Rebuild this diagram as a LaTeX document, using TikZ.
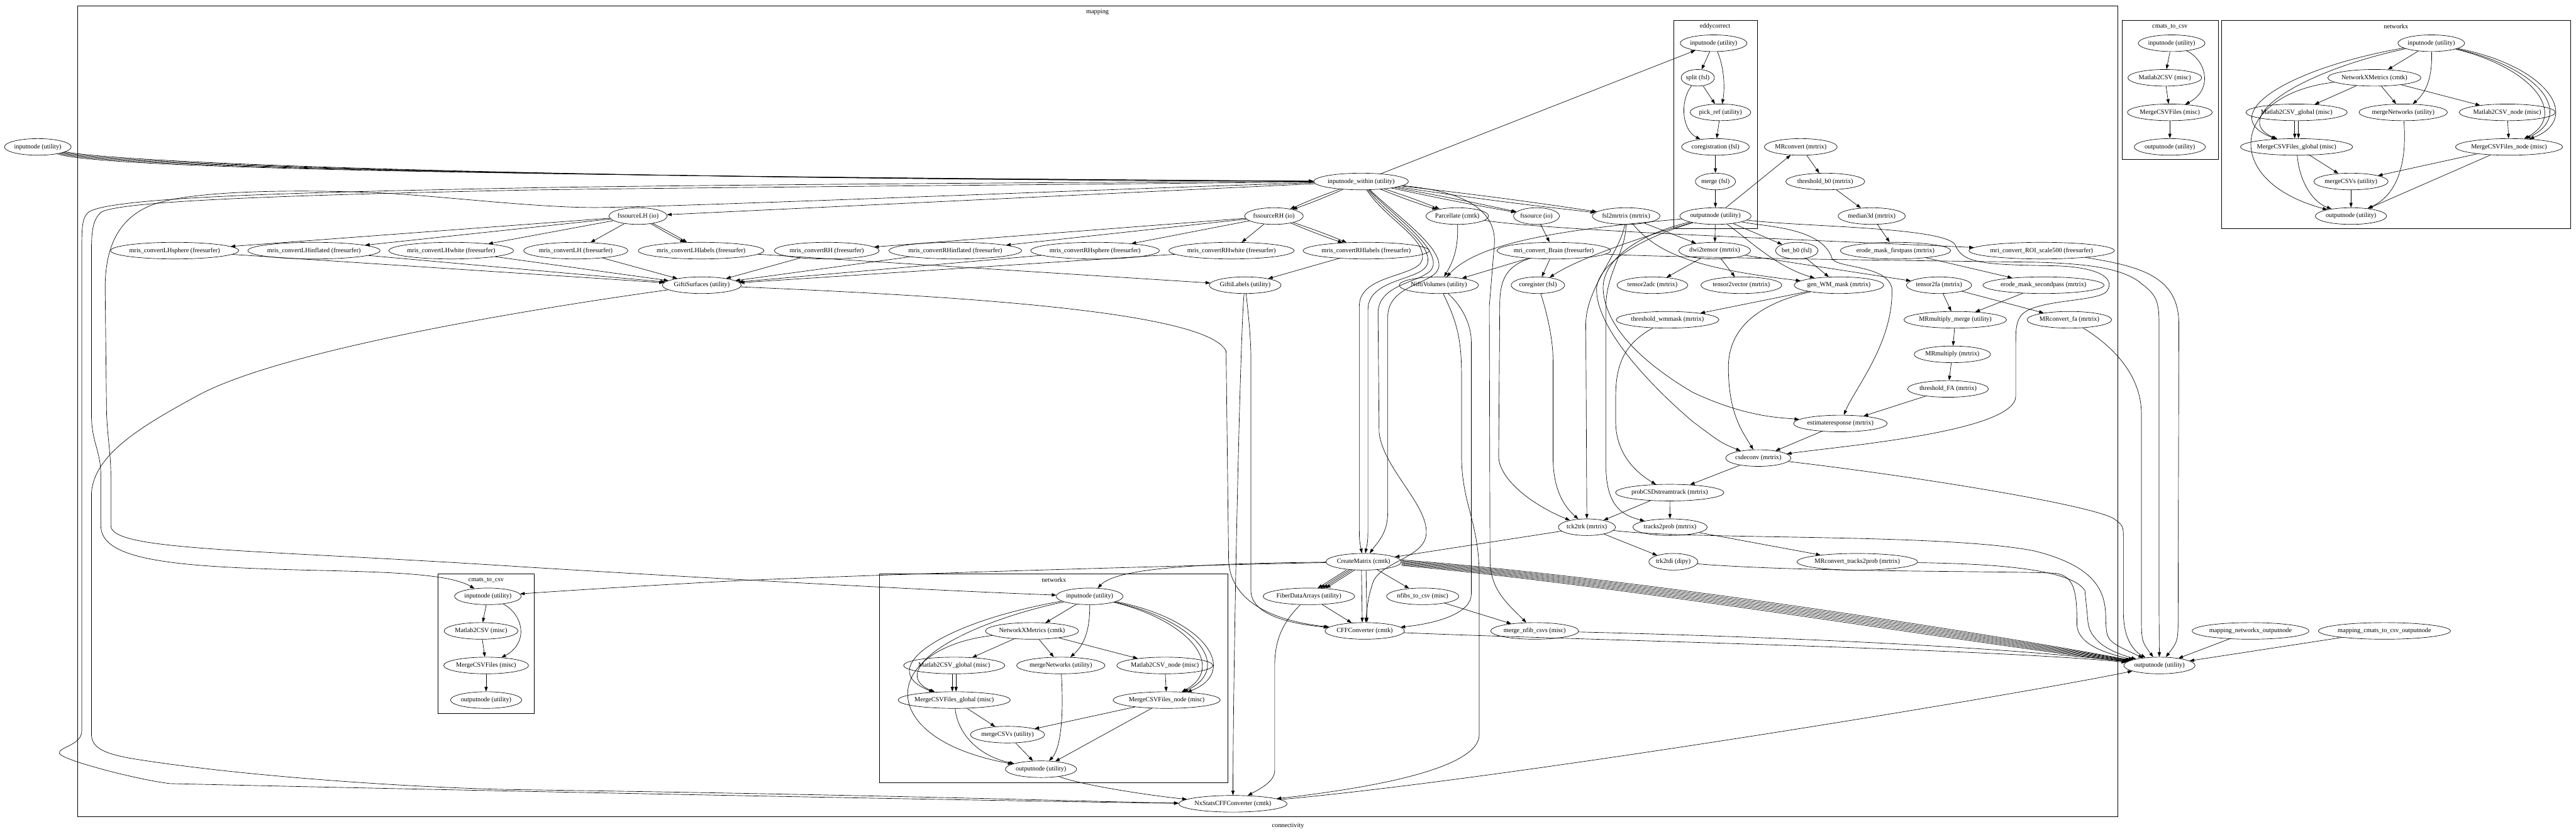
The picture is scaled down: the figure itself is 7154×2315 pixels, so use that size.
\documentclass[tikz,border=0pt]{standalone}
\usepackage{fontspec}
\setmainfont{Liberation Serif}
\usetikzlibrary{shapes.geometric,arrows.meta}

\begin{document}
\begin{tikzpicture}[x=0.78pt,y=-0.78pt,line width=0.9pt,
    proc/.style={ellipse,draw,inner xsep=0pt,inner ysep=0pt,minimum height=36pt,font=\fontsize{14}{16}\selectfont},
    lbl/.style={font=\fontsize{14}{16}\selectfont},
    arr/.style={-{Triangle[length=10pt,width=7pt]}}]

\useasboundingbox (0,0) rectangle (7154,2315);

% clusters
\draw (215,16) rectangle (5882,2268);
\node[lbl] at (3048,34) {mapping};
\node[lbl] at (3577,2294) {connectivity};
\draw (4648,56) rectangle (4881,634);
\node[lbl] at (4763,73) {eddycorrect};
\draw (5893,56) rectangle (6160,443);
\node[lbl] at (6026,73) {cmats\_to\_csv};
\draw (6170,56) rectangle (7138,634);
\node[lbl] at (6654,73) {networkx};
\draw (1217,1594) rectangle (1483,1982);
\node[lbl] at (1350,1611) {cmats\_to\_csv};
\draw (2442,1594) rectangle (3410,2173);
\node[lbl] at (2927,1611) {networkx};

% outside mapping
\node[proc] (in0) at (105,408) {inputnode (utility)};
\node[proc] (out0) at (5997,1848) {outputnode (utility)};
\node[proc] (mnxo) at (6250,1752) {mapping\_networkx\_outputnode};
\node[proc] (mcco) at (6622,1752) {mapping\_cmats\_to\_csv\_outputnode};

\node[proc] (tcin) at (6031,120) {inputnode (utility)};
\node[proc] (tcm2c) at (6012,216) {Matlab2CSV (misc)};
\node[proc] (tcmrg) at (6026,312) {MergeCSVFiles (misc)};
\node[proc] (tcout) at (6026,408) {outputnode (utility)};

\node[proc] (tnin) at (6752,120) {inputnode (utility)};
\node[proc] (tnxm) at (6594,216) {NetworkXMetrics (cmtk)};
\node[proc] (tm2cg) at (6378,312) {Matlab2CSV\_global (misc)};
\node[proc] (tmnet) at (6674,312) {mergeNetworks (utility)};
\node[proc] (tm2cn) at (6963,312) {Matlab2CSV\_node (misc)};
\node[proc] (tmcg) at (6378,408) {MergeCSVFiles\_global (misc)};
\node[proc] (tmcn) at (6968,408) {MergeCSVFiles\_node (misc)};
\node[proc] (tmcsv) at (6529,504) {mergeCSVs (utility)};
\node[proc] (tnout) at (6529,600) {outputnode (utility)};

% mapping
\node[proc] (inw) at (3780,504) {inputnode\_within (utility)};
\node[proc] (fsLH) at (1772,600) {fssourceLH (io)};
\node[proc] (fsRH) at (3538,600) {fssourceRH (io)};
\node[proc] (parc) at (4047,600) {Parcellate (cmtk)};
\node[proc] (fss) at (4267,600) {fssource (io)};
\node[proc] (fsl2m) at (4516,600) {fsl2mrtrix (mrtrix)};

\node[proc] (ein) at (4759,120) {inputnode (utility)};
\node[proc] (esplit) at (4715,216) {split (fsl)};
\node[proc] (epick) at (4778,312) {pick\_ref (utility)};
\node[proc] (ecoreg) at (4764,408) {coregistration (fsl)};
\node[proc] (emerge) at (4764,504) {merge (fsl)};
\node[proc] (eout) at (4764,600) {outputnode (utility)};

\node[proc] (mrconv) at (5001,408) {MRconvert (mrtrix)};
\node[proc] (thb0) at (5069,504) {threshold\_b0 (mrtrix)};
\node[proc] (med) at (5198,600) {median3d (mrtrix)};

\node[proc] (mcLHsph) at (485,696) {mris\_convertLHsphere (freesurfer)};
\node[proc] (mcLHinf) at (872,696) {mris\_convertLHinflated (freesurfer)};
\node[proc] (mcLHwh) at (1253,696) {mris\_convertLHwhite (freesurfer)};
\node[proc] (mcLH) at (1599,696) {mris\_convertLH (freesurfer)};
\node[proc] (mcLHlab) at (1947,696) {mris\_convertLHlabels (freesurfer)};
\node[proc] (mcRH) at (2296,696) {mris\_convertRH (freesurfer)};
\node[proc] (mcRHinf) at (2653,696) {mris\_convertRHinflated (freesurfer)};
\node[proc] (mcRHsph) at (3041,696) {mris\_convertRHsphere (freesurfer)};
\node[proc] (mcRHwh) at (3420,696) {mris\_convertRHwhite (freesurfer)};
\node[proc] (mcRHlab) at (3794,696) {mris\_convertRHlabels (freesurfer)};
\node[proc] (mriBrain) at (4315,696) {mri\_convert\_Brain (freesurfer)};
\node[proc] (dwi2t) at (4762,696) {dwi2tensor (mrtrix)};
\node[proc] (betb0) at (4990,696) {bet\_b0 (fsl)};
\node[proc] (erode1) at (5264,696) {erode\_mask\_firstpass (mrtrix)};
\node[proc] (mriROI) at (5670,696) {mri\_convert\_ROI\_scale500 (freesurfer)};

\node[proc] (giftiS) at (1949,792) {GiftiSurfaces (utility)};
\node[proc] (giftiL) at (3458,792) {GiftiLabels (utility)};
\node[proc] (nifti) at (3996,792) {NiftiVolumes (utility)};
\node[proc] (coreg) at (4271,792) {coregister (fsl)};
\node[proc] (t2adc) at (4589,792) {tensor2adc (mrtrix)};
\node[proc] (t2vec) at (4836,792) {tensor2vector (mrtrix)};
\node[proc] (genwm) at (5107,792) {gen\_WM\_mask (mrtrix)};
\node[proc] (t2fa) at (5385,792) {tensor2fa (mrtrix)};
\node[proc] (erode2) at (5675,792) {erode\_mask\_secondpass (mrtrix)};

\node[proc] (thwm) at (4631,888) {threshold\_wmmask (mrtrix)};
\node[proc] (mrmm) at (5430,888) {MRmultiply\_merge (utility)};
\node[proc] (mrcfa) at (5747,888) {MRconvert\_fa (mrtrix)};
\node[proc] (mrmult) at (5422,984) {MRmultiply (mrtrix)};
\node[proc] (thfa) at (5410,1080) {threshold\_FA (mrtrix)};
\node[proc] (estresp) at (5111,1176) {estimateresponse (mrtrix)};
\node[proc] (csd) at (4883,1272) {csdeconv (mrtrix)};
\node[proc] (probcsd) at (4637,1368) {probCSDstreamtrack (mrtrix)};
\node[proc] (tck2trk) at (4407,1464) {tck2trk (mrtrix)};
\node[proc] (t2prob) at (4638,1464) {tracks2prob (mrtrix)};
\node[proc] (trk2tdi) at (4647,1560) {trk2tdi (dipy)};
\node[proc] (mrctp) at (5158,1560) {MRconvert\_tracks2prob (mrtrix)};
\node[proc] (cmat) at (3787,1560) {CreateMatrix (cmtk)};
\node[proc] (fda) at (3635,1656) {FiberDataArrays (utility)};
\node[proc] (nfib) at (3951,1656) {nfibs\_to\_csv (misc)};
\node[proc] (cff) at (3790,1752) {CFFConverter (cmtk)};
\node[proc] (mnfib) at (4262,1752) {merge\_nfib\_csvs (misc)};
\node[proc] (nxs) at (3424,2232) {NxStatsCFFConverter (cmtk)};

\node[proc] (cin) at (1355,1656) {inputnode (utility)};
\node[proc] (cm2c) at (1336,1752) {Matlab2CSV (misc)};
\node[proc] (cmcsv) at (1350,1848) {MergeCSVFiles (misc)};
\node[proc] (cout) at (1350,1944) {outputnode (utility)};

\node[proc] (lnin) at (3026,1656) {inputnode (utility)};
\node[proc] (lnxm) at (2866,1752) {NetworkXMetrics (cmtk)};
\node[proc] (lm2cg) at (2650,1848) {Matlab2CSV\_global (misc)};
\node[proc] (lmnet) at (2946,1848) {mergeNetworks (utility)};
\node[proc] (lm2cn) at (3235,1848) {Matlab2CSV\_node (misc)};
\node[proc] (lmcg) at (2650,1944) {MergeCSVFiles\_global (misc)};
\node[proc] (lmcn) at (3240,1944) {MergeCSVFiles\_node (misc)};
\node[proc] (lmcsv) at (2798,2040) {mergeCSVs (utility)};
\node[proc] (lnout) at (2891,2136) {outputnode (utility)};

% into the workflow
\draw[arr] (in0) .. controls (280,470) and (1500,488) .. (inw);
\draw[arr] (in0) .. controls (300,466) and (1500,490) .. (inw);
\draw[arr] (in0) .. controls (320,462) and (1500,492) .. (inw);
\draw[arr] (in0) .. controls (340,458) and (1500,494) .. (inw);
\draw[arr] (in0) .. controls (360,454) and (1500,496) .. (inw);
\draw[arr] (mnxo) -- (out0);
\draw[arr] (mcco) -- (out0);

% cmats_to_csv (top)
\draw[arr] (tcin) -- (tcm2c);
\draw[arr] (tcm2c) -- (tcmrg);
\draw[arr] (tcin) .. controls (6130,170) and (6145,250) .. (tcmrg);
\draw[arr] (tcmrg) -- (tcout);

% networkx (top)
\draw[arr] (tnin) -- (tnxm);
\draw[arr] (tnin) .. controls (6755,200) and (6745,250) .. (tmnet);
\draw[arr] (tnin) .. controls (6350,190) and (6150,320) .. (tmcg);
\draw[arr] (tnin) .. controls (6380,200) and (6190,330) .. (tmcg);
\draw[arr] (tnin) .. controls (7040,190) and (7130,320) .. (tmcn);
\draw[arr] (tnin) .. controls (7060,190) and (7150,320) .. (tmcn);
\draw[arr] (tnin) .. controls (7080,185) and (7170,330) .. (tmcn);
\draw[arr] (tnxm) -- (tm2cg);
\draw[arr] (tnxm) -- (tmnet);
\draw[arr] (tnxm) -- (tm2cn);
\draw[arr] (tnxm) .. controls (6200,260) and (6160,500) .. (tnout);
\draw[arr,transform canvas={xshift=-4pt}] (tm2cg) -- (tmcg);
\draw[arr,transform canvas={xshift=4pt}] (tm2cg) -- (tmcg);
\draw[arr] (tm2cn) -- (tmcn);
\draw[arr] (tmcg) -- (tmcsv);
\draw[arr] (tmcn) -- (tmcsv);
\draw[arr] (tmcg) .. controls (6385,500) and (6420,560) .. (tnout);
\draw[arr] (tmnet) .. controls (6685,450) and (6660,540) .. (tnout);
\draw[arr] (tmcn) -- (tnout);
\draw[arr] (tmcsv) -- (tnout);

% eddycorrect
\draw[arr] (ein) -- (esplit);
\draw[arr] (ein) .. controls (4790,190) and (4790,250) .. (epick);
\draw[arr] (esplit) -- (epick);
\draw[arr] (esplit) .. controls (4665,280) and (4670,360) .. (ecoreg);
\draw[arr] (epick) -- (ecoreg);
\draw[arr] (ecoreg) -- (emerge);
\draw[arr] (emerge) -- (eout);

% inputnode_within
\draw[arr] (inw) -- (fsLH);
\draw[arr] (inw) to[bend left=2] (fsRH);
\draw[arr] (inw) to[bend right=2] (fsRH);
\draw[arr] (inw) to[bend left=2] (parc);
\draw[arr] (inw) to[bend right=2] (parc);
\draw[arr] (inw) to[bend left=1] (fss);
\draw[arr] (inw) to[bend right=1] (fss);
\draw[arr] (inw) to[bend left=1] (fsl2m);
\draw[arr] (inw) to[bend right=1] (fsl2m);
\draw[arr] (inw) -- (ein);
\draw[arr] (inw) .. controls (3850,610) and (3960,660) .. (3950,720) .. controls (3940,770) and (3775,760) .. (3775,850) -- (3775,1450) .. controls (3775,1500) .. (cmat);
\draw[arr] (inw) .. controls (3860,605) and (3975,670) .. (3965,730) .. controls (3955,780) and (3799,770) .. (3799,860) -- (3799,1450) .. controls (3799,1500) .. (cmat);
\draw[arr] (inw) .. controls (3880,600) and (4010,690) .. (3995,745) .. controls (3980,790) and (3854,790) .. (3854,880) -- (3854,1420) .. controls (3854,1480) and (3830,1500) .. (cmat);
\draw[arr] (inw) .. controls (3870,600) and (3990,680) .. (3980,738) .. controls (3970,785) and (3827,780) .. (3827,870) -- (3830,1200) .. controls (3840,1300) and (3965,1400) .. (3961,1481) .. controls (3958,1550) and (3830,1560) .. (3812,1620) .. controls (3800,1660) .. (cff);
\draw[arr] (inw) .. controls (3990,525) and (4160,550) .. (4150,680) -- (4136,850) -- (4138,1560) .. controls (4140,1640) and (4190,1680) .. (mnfib);
\draw[arr] (inw) .. controls (3000,505) and (1800,515) .. (1450,522) .. controls (900,533) and (300,545) .. (245,590) .. controls (228,605) and (227,630) .. (227,700) -- (227,2030) .. controls (227,2070) and (160,2075) .. (165,2092) .. controls (170,2110) and (380,2165) .. (472,2176) .. controls (1500,2200) and (3000,2228) .. (nxs);
\draw[arr] (inw) .. controls (3000,512) and (1800,522) .. (1450,528) .. controls (900,540) and (330,555) .. (280,590) .. controls (258,610) and (254,640) .. (254,700) -- (254,1150) .. controls (254,1230) and (280,1250) .. (280,1320) -- (280,1460) .. controls (280,1560) and (500,1575) .. (888,1584) .. controls (1100,1589) and (1250,1595) .. (cin);
\draw[arr] (inw) .. controls (3200,520) and (2000,570) .. (1677,576) .. controls (1500,580) and (1200,540) .. (1017,534) .. controls (800,526) and (520,530) .. (420,570) .. controls (320,610) and (292,700) .. (292,800) -- (296,1150) .. controls (300,1230) and (308,1260) .. (308,1330) -- (308,1460) .. controls (308,1530) and (700,1525) .. (1450,1574) .. controls (2000,1608) and (2600,1640) .. (lnin);

% surfaces
\draw[arr] (fsLH) -- (mcLHsph);
\draw[arr] (fsLH) -- (mcLHinf);
\draw[arr] (fsLH) -- (mcLHwh);
\draw[arr] (fsLH) -- (mcLH);
\draw[arr] (fsLH) to[bend left=2] (mcLHlab);
\draw[arr] (fsLH) to[bend right=2] (mcLHlab);
\draw[arr] (fsRH) -- (mcRH);
\draw[arr] (fsRH) -- (mcRHinf);
\draw[arr] (fsRH) -- (mcRHsph);
\draw[arr] (fsRH) -- (mcRHwh);
\draw[arr] (fsRH) to[bend left=2] (mcRHlab);
\draw[arr] (fsRH) to[bend right=2] (mcRHlab);
\draw[arr] (mcLHsph) -- (giftiS);
\draw[arr] (mcLHinf) -- (giftiS);
\draw[arr] (mcLHwh) -- (giftiS);
\draw[arr] (mcLH) -- (giftiS);
\draw[arr] (mcRH) -- (giftiS);
\draw[arr] (mcRHinf) -- (giftiS);
\draw[arr] (mcRHsph) -- (giftiS);
\draw[arr] (mcRHwh) -- (giftiS);
\draw[arr] (mcLHlab) -- (giftiL);
\draw[arr] (mcRHlab) -- (giftiL);
\draw[arr] (giftiS) .. controls (1600,840) and (800,960) .. (546,1100) .. controls (400,1180) and (260,1260) .. (254,1370) -- (254,2040) .. controls (254,2080) and (300,2095) .. (370,2107) .. controls (700,2160) and (1200,2190) .. (1450,2193) .. controls (2500,2208) and (3100,2228) .. (nxs);
\draw[arr] (giftiS) .. controls (2600,820) and (3350,860) .. (3405,975) -- (3412,1550) .. controls (3412,1650) and (3500,1720) .. (cff);
\draw[arr] (giftiL) .. controls (3470,900) and (3474,950) .. (3474,1000) -- (3474,1640) .. controls (3474,1700) and (3560,1730) .. (cff);
\draw[arr] (giftiL) .. controls (3445,900) and (3425,1800) .. (nxs);

% volumes
\draw[arr] (parc) .. controls (4050,680) and (4040,720) .. (nifti);
\draw[arr] (parc) .. controls (4300,640) and (5000,665) .. (mriROI);
\draw[arr] (fss) -- (mriBrain);
\draw[arr] (mriBrain) -- (coreg);
\draw[arr] (mriBrain) -- (nifti);
\draw[arr] (mriBrain) .. controls (4180,740) and (4165,780) .. (4165,850) -- (4162,1270) .. controls (4165,1330) and (4250,1400) .. (tck2trk);
\draw[arr] (mriBrain) .. controls (4600,715) and (5400,725) .. (5650,728) .. controls (5800,732) and (5900,745) .. (5950,790) .. controls (5990,820) and (5996,840) .. (5996,900) -- (5996,1700) -- (out0);
\draw[arr] (nifti) .. controls (4060,850) and (4086,900) .. (4086,950) -- (4086,1650) .. controls (4086,1700) and (4000,1730) .. (cff);
\draw[arr] (nifti) .. controls (4050,900) and (4059,950) .. (4059,1050) -- (4059,1271) .. controls (4060,1400) and (4108,1450) .. (4108,1600) -- (4108,2040) .. controls (4108,2150) and (3700,2200) .. (nxs);
\draw[arr] (coreg) .. controls (4300,880) and (4313,950) .. (4313,1000) -- (4313,1270) .. controls (4313,1380) and (4360,1420) .. (tck2trk);

% diffusion
\draw[arr] (eout) -- (mrconv);
\draw[arr] (eout) -- (dwi2t);
\draw[arr] (eout) -- (betb0);
\draw[arr] (eout) .. controls (4850,660) and (4930,740) .. (genwm);
\draw[arr] (eout) .. controls (4550,660) and (4380,720) .. (coreg);
\draw[arr] (eout) .. controls (4300,640) and (4100,680) .. (nifti);
\draw[arr] (eout) .. controls (4560,660) and (4440,730) .. (4434,800) .. controls (4430,900) and (4560,1050) .. (4700,1170) .. controls (4780,1230) .. (csd);
\draw[arr] (eout) .. controls (4550,650) and (4452,720) .. (4452,800) .. controls (4455,900) and (4550,1000) .. (4700,1089) .. controls (4850,1160) and (4950,1160) .. (estresp);
\draw[arr] (eout) .. controls (4900,630) and (5060,630) .. (5088,718) .. controls (5100,745) and (5240,735) .. (5254,800) .. controls (5260,950) and (5150,1080) .. (estresp);
\draw[arr] (eout) .. controls (5000,630) and (5400,630) .. (5430,680) .. controls (5450,730) and (5500,735) .. (5700,738) .. controls (5820,740) and (5880,770) .. (5850,810) .. controls (5820,840) and (5640,830) .. (5610,880) .. controls (5598,900) and (5598,920) .. (5598,960) -- (5598,1100) .. controls (5598,1200) and (5100,1240) .. (csd);
\draw[arr] (fsl2m) -- (dwi2t);
\draw[arr] (fsl2m) .. controls (4600,700) and (4700,745) .. (genwm);
\draw[arr] (fsl2m) .. controls (4500,700) and (4404,800) .. (4404,900) -- (tck2trk);
\draw[arr] (fsl2m) .. controls (4515,700) and (4460,760) .. (4460,850) -- (4460,1300) .. controls (4462,1400) and (4500,1430) .. (t2prob);
\draw[arr] (mrconv) -- (thb0);
\draw[arr] (thb0) -- (med);
\draw[arr] (med) -- (erode1);
\draw[arr] (erode1) -- (erode2);
\draw[arr] (betb0) -- (genwm);
\draw[arr] (dwi2t) -- (t2adc);
\draw[arr] (dwi2t) -- (t2vec);
\draw[arr] (dwi2t) -- (t2fa);
\draw[arr] (t2fa) -- (mrmm);
\draw[arr] (erode2) -- (mrmm);
\draw[arr] (t2fa) -- (mrcfa);
\draw[arr] (mrmm) -- (mrmult);
\draw[arr] (mrmult) -- (thfa);
\draw[arr] (thfa) -- (estresp);
\draw[arr] (estresp) -- (csd);
\draw[arr] (genwm) -- (thwm);
\draw[arr] (genwm) .. controls (4900,840) and (4800,900) .. (4800,1020) .. controls (4800,1150) and (4840,1200) .. (csd);
\draw[arr] (thwm) .. controls (4520,950) and (4487,1000) .. (4487,1100) -- (4487,1177) .. controls (4490,1260) and (4540,1310) .. (probcsd);
\draw[arr] (csd) -- (probcsd);
\draw[arr] (probcsd) -- (tck2trk);
\draw[arr] (probcsd) -- (t2prob);
\draw[arr] (t2prob) -- (mrctp);
\draw[arr] (tck2trk) -- (trk2tdi);
\draw[arr] (tck2trk) -- (cmat);

% matrices
\draw[arr,transform canvas={xshift=-9pt}] (cmat) -- (fda);
\draw[arr,transform canvas={xshift=-3pt}] (cmat) -- (fda);
\draw[arr,transform canvas={xshift=3pt}] (cmat) -- (fda);
\draw[arr,transform canvas={xshift=9pt}] (cmat) -- (fda);
\draw[arr,transform canvas={xshift=-5pt}] (cmat) -- (cff);
\draw[arr,transform canvas={xshift=5pt}] (cmat) -- (cff);
\draw[arr] (cmat) -- (nfib);
\draw[arr] (nfib) -- (mnfib);
\draw[arr] (fda) -- (cff);
\draw[arr] (fda) .. controls (3560,1730) and (3540,1780) .. (3540,1850) -- (3540,2140) .. controls (3540,2170) and (3500,2190) .. (nxs);
\draw[arr] (cmat) .. controls (3300,1570) and (2600,1590) .. (2080,1611) .. controls (1800,1625) and (1500,1645) .. (cin);
\draw[arr] (cmat) .. controls (3300,1565) and (3100,1580) .. (lnin);

% cmats_to_csv (lower)
\draw[arr] (cin) -- (cm2c);
\draw[arr] (cm2c) -- (cmcsv);
\draw[arr] (cin) .. controls (1454,1706) and (1469,1786) .. (cmcsv);
\draw[arr] (cmcsv) -- (cout);

% networkx (lower)
\draw[arr] (lnin) -- (lnxm);
\draw[arr] (lnin) .. controls (3027,1736) and (3017,1786) .. (lmnet);
\draw[arr] (lnin) .. controls (2622,1726) and (2422,1856) .. (lmcg);
\draw[arr] (lnin) .. controls (2652,1736) and (2462,1866) .. (lmcg);
\draw[arr] (lnin) .. controls (3312,1726) and (3402,1856) .. (lmcn);
\draw[arr] (lnin) .. controls (3332,1726) and (3422,1856) .. (lmcn);
\draw[arr] (lnin) .. controls (3352,1721) and (3442,1866) .. (lmcn);
\draw[arr] (lnxm) -- (lm2cg);
\draw[arr] (lnxm) -- (lmnet);
\draw[arr] (lnxm) -- (lm2cn);
\draw[arr] (lnxm) .. controls (2450,1800) and (2420,2050) .. (lnout);
\draw[arr,transform canvas={xshift=-4pt}] (lm2cg) -- (lmcg);
\draw[arr,transform canvas={xshift=4pt}] (lm2cg) -- (lmcg);
\draw[arr] (lm2cn) -- (lmcn);
\draw[arr] (lmcg) -- (lmcsv);
\draw[arr] (lmcn) -- (lmcsv);
\draw[arr] (lmcg) .. controls (2660,2040) and (2720,2100) .. (lnout);
\draw[arr] (lmnet) .. controls (2955,1990) and (2945,2080) .. (lnout);
\draw[arr] (lmcn) -- (lnout);
\draw[arr] (lmcsv) -- (lnout);
\draw[arr] (lnout) .. controls (3000,2180) and (3200,2210) .. (nxs);

% outputs
\draw[arr] ([yshift=4pt]cmat.east) .. controls (4500,1600) and (5500,1755) .. (out0);
\draw[arr] ([yshift=2pt]cmat.east) .. controls (4500,1604) and (5500,1761) .. (out0);
\draw[arr] (cmat.east) .. controls (4500,1608) and (5500,1767) .. (out0);
\draw[arr] ([yshift=-2pt]cmat.east) .. controls (4500,1612) and (5500,1773) .. (out0);
\draw[arr] ([yshift=-4pt]cmat.east) .. controls (4500,1616) and (5500,1779) .. (out0);
\draw[arr] ([yshift=-6pt]cmat.east) .. controls (4500,1620) and (5500,1785) .. (out0);
\draw[arr] ([yshift=-8pt]cmat.east) .. controls (4500,1624) and (5500,1791) .. (out0);
\draw[arr] (cff) .. controls (4300,1775) and (5500,1800) .. (out0);
\draw[arr] (mnfib) .. controls (4800,1765) and (5500,1790) .. (out0);
\draw[arr] (nxs) .. controls (4200,2162) and (5600,1930) .. (out0);
\draw[arr] (tck2trk) .. controls (4700,1500) and (5400,1480) .. (5650,1530) .. controls (5830,1575) and (5848,1650) .. (5848,1720) .. controls (5850,1780) .. (out0);
\draw[arr] (trk2tdi) .. controls (5000,1590) and (5600,1585) .. (5709,1592) .. controls (5760,1600) and (5768,1640) .. (5768,1735) .. controls (5770,1790) and (5850,1815) .. (out0);
\draw[arr] (mrctp) .. controls (5500,1565) and (5750,1575) .. (5790,1640) -- (5798,1720) .. controls (5800,1780) and (5860,1810) .. (out0);
\draw[arr] (csd) .. controls (5300,1320) and (5800,1400) .. (5870,1440) .. controls (5897,1460) .. (5897,1500) -- (5897,1700) .. controls (5897,1780) and (5930,1810) .. (out0);
\draw[arr] (mrcfa) .. controls (5850,950) and (5947,1030) .. (5947,1150) -- (5947,1700) .. controls (5947,1780) .. (out0);
\draw[arr] (mriROI) .. controls (5950,740) and (6051,770) .. (6051,900) -- (6049,1700) .. controls (6049,1780) .. (out0);
\end{tikzpicture}
\end{document}
